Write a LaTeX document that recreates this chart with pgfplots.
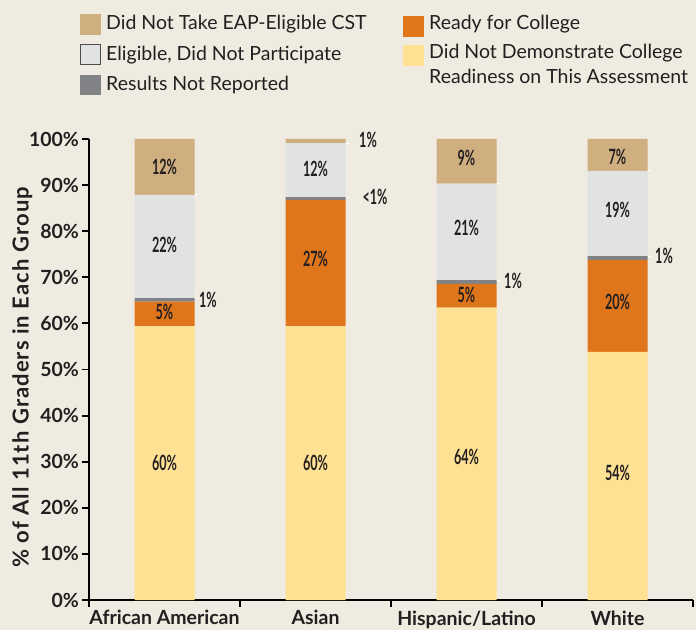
\documentclass[border=0pt]{standalone}
\usepackage{graphicx}
\usepackage{fontspec}
\setmainfont{Lato}
\usepackage{pgfplots}
\pgfplotsset{compat=1.18}
\definecolor{bg}{HTML}{EFEBE1}
\definecolor{ctan}{HTML}{CFAE7F}
\definecolor{clight}{HTML}{E1E2E4}
\definecolor{cgray}{HTML}{808285}
\definecolor{corange}{HTML}{DF761C}
\definecolor{cyellow}{HTML}{FFE193}
\definecolor{ctext}{HTML}{231F20}
\newcommand{\barlab}[1]{\scalebox{0.6}[1]{\fontsize{21}{21}\selectfont\bfseries #1}}
\pgfplotsset{frame/.style={at={(89pt,30pt)}, anchor=south west,
  scale only axis, width=604pt, height=461pt,
  xmin=-0.5, xmax=3.5, ymin=0, ymax=100, clip=false}}
\begin{document}
\begin{tikzpicture}[x=1pt,y=1pt]
\fill[bg] (0,0) rectangle (696,630);
\useasboundingbox (0,0) rectangle (696,630);
% legend
\fill[ctan] (80,616) rectangle (101,595);
\fill[clight,draw=black!70,line width=0.6pt] (80.3,586) rectangle (100.7,566);
\fill[cgray] (80,555) rectangle (101,535);
\fill[corange] (403,614) rectangle (424,593);
\fill[cyellow] (403,585) rectangle (424,564);
\begin{scope}[every node/.style={anchor=west,inner sep=0pt,text=ctext,font=\fontsize{19.5}{25}\selectfont}]
\node at (106,606) {Did Not Take EAP-Eligible CST};
\node at (106,575) {Eligible, Did Not Participate};
\node at (106,545) {Results Not Reported};
\node at (429,606) {Ready for College};
\node[align=left] at (429,566) {Did Not Demonstrate College\\Readiness on This Assessment};
\end{scope}
\begin{axis}[
  frame,
  ybar stacked, bar width=60pt,
  axis x line*=bottom, axis y line*=left,
  axis line style={line width=2.2pt},
  xtick={-0.5,0.5,1.5,2.5,3.5},
  xticklabels={},
  extra x ticks={0,1,2,3},
  extra x tick labels={African American,Asian,Hispanic/Latino,White},
  extra x tick style={major tick length=0pt, xticklabel style={yshift=-7pt}},
  ytick={0,10,...,100},
  yticklabel={\pgfmathprintnumber{\tick}\%},
  tick style={line width=1.8pt,black},
  major tick length=6.5pt,
  tick align=outside,
  /pgf/number format/assume math mode=true,
  tick label style={font=\fontsize{19.5}{20}\selectfont\bfseries, text=ctext},
  ylabel={\% of All 11th Graders in Each Group},
  ylabel style={font=\fontsize{22}{22}\selectfont\bfseries\addfontfeatures{LetterSpace=5}, text=ctext, yshift=-10pt, xshift=-8pt},
]
\addplot[fill=cyellow,draw=none] coordinates {(0,59.4) (1,59.4) (2,63.4) (3,53.8)};
\addplot[fill=corange,draw=none] coordinates {(0,5.3) (1,27.4) (2,5.2) (3,20.0)};
\addplot[fill=cgray,draw=none] coordinates {(0,0.8) (1,0.6) (2,0.8) (3,0.8)};
\addplot[fill=clight,draw=none] coordinates {(0,22.4) (1,11.7) (2,20.9) (3,18.5)};
\addplot[fill=ctan,draw=none] coordinates {(0,12.1) (1,0.9) (2,9.7) (3,6.9)};
\end{axis}
\begin{axis}[frame, hide axis]
\draw[white,line width=0.8pt] (axis cs:0.2,87.9) -- (axis cs:0.225,87.9);
\draw[white,line width=0.8pt] (axis cs:0.2,65.5) -- (axis cs:0.225,65.5);
\draw[white,line width=0.8pt] (axis cs:1.2,99.1) -- (axis cs:1.225,99.1);
\draw[white,line width=0.8pt] (axis cs:1.2,87.4) -- (axis cs:1.225,87.4);
\draw[white,line width=0.8pt] (axis cs:2.2,90.3) -- (axis cs:2.225,90.3);
\draw[white,line width=0.8pt] (axis cs:2.2,69.4) -- (axis cs:2.225,69.4);
\draw[white,line width=0.8pt] (axis cs:3.2,93.1) -- (axis cs:3.225,93.1);
\draw[white,line width=0.8pt] (axis cs:3.2,74.6) -- (axis cs:3.225,74.6);
\node[inner sep=0pt,text=ctext] at (axis cs:0,93.9) {\barlab{12\%}};
\node[inner sep=0pt,text=ctext] at (axis cs:0,77.0) {\barlab{22\%}};
\node[inner sep=0pt,text=ctext] at (axis cs:0,62.5) {\barlab{5\%}};
\node[inner sep=0pt,text=ctext] at (axis cs:0,29.7) {\barlab{60\%}};
\node[inner sep=0pt,text=ctext] at (axis cs:0.288,65.1) {\barlab{1\%}};
\node[inner sep=0pt,text=ctext] at (axis cs:1.348,99.8) {\barlab{1\%}};
\node[inner sep=0pt,text=ctext] at (axis cs:1,93.5) {\barlab{12\%}};
\node[inner sep=0pt,text=ctext] at (axis cs:1.394,87.4) {\barlab{<1\%}};
\node[inner sep=0pt,text=ctext] at (axis cs:1,73.9) {\barlab{27\%}};
\node[inner sep=0pt,text=ctext] at (axis cs:1,29.7) {\barlab{60\%}};
\node[inner sep=0pt,text=ctext] at (axis cs:2,95.9) {\barlab{9\%}};
\node[inner sep=0pt,text=ctext] at (axis cs:2,80.7) {\barlab{21\%}};
\node[inner sep=0pt,text=ctext] at (axis cs:2.308,69.2) {\barlab{1\%}};
\node[inner sep=0pt,text=ctext] at (axis cs:2,66.1) {\barlab{5\%}};
\node[inner sep=0pt,text=ctext] at (axis cs:2,31.0) {\barlab{64\%}};
\node[inner sep=0pt,text=ctext] at (axis cs:3,96.1) {\barlab{7\%}};
\node[inner sep=0pt,text=ctext] at (axis cs:3,84.6) {\barlab{19\%}};
\node[inner sep=0pt,text=ctext] at (axis cs:3.308,74.6) {\barlab{1\%}};
\node[inner sep=0pt,text=ctext] at (axis cs:3,64.6) {\barlab{20\%}};
\node[inner sep=0pt,text=ctext] at (axis cs:3,27.5) {\barlab{54\%}};
\end{axis}
\end{tikzpicture}
\end{document}
